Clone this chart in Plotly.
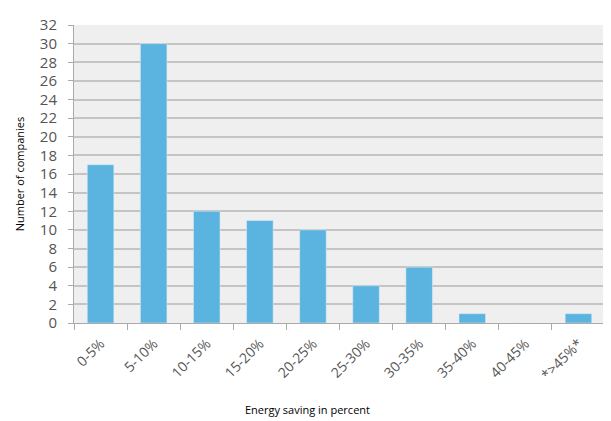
import plotly.graph_objects as go

categories = ["0-5%", "5-10%", "10-15%", "15-20%", "20-25%", "25-30%", "30-35%", "35-40%", "40-45%", "*>45%*"]
companies = [17, 30, 12, 11, 10, 4, 6, 1, 0, 1]
y_ticks = list(range(0, 33, 2))

fig = go.Figure(go.Bar(x=categories, y=companies, marker_color="#5ab4df", width=0.5))

# page body has an 8px margin; compensate so the plot lands where the reference has it
fig.update_layout(
    width=603, height=413,
    margin=dict(l=66, r=6, t=8, b=98),
    paper_bgcolor="white", plot_bgcolor="#efefef",
    font=dict(family="Open Sans", color="#555555"),
    showlegend=False,
)
fig.update_xaxes(
    type="category", tickangle=-45, tickfont=dict(size=14, color="#555555"),
    ticklabelstandoff=6,
    showline=True, linecolor="#aaaaaa", ticks="outside", tickson="boundaries",
    ticklen=6, tickcolor="#aaaaaa", showgrid=False,
)
fig.update_yaxes(
    range=[0, 32], tickvals=y_ticks, tickfont=dict(size=15, color="#555555"),
    ticklabeloverflow="allow", ticklabelstandoff=8,
    showgrid=True, gridcolor="#c4c4c4", gridwidth=1.5,
    showline=True, linecolor="#aaaaaa", ticks="outside", ticklen=5, tickcolor="#aaaaaa",
    zeroline=False,
    title=dict(text="Number of companies", font=dict(size=11, color="black"), standoff=12),
)
fig.add_annotation(text="Energy saving in percent", xref="paper", yref="paper",
                   x=0.44, y=-0.29, showarrow=False, yanchor="middle",
                   font=dict(size=11, color="black"))

fig.write_html("out.html")
